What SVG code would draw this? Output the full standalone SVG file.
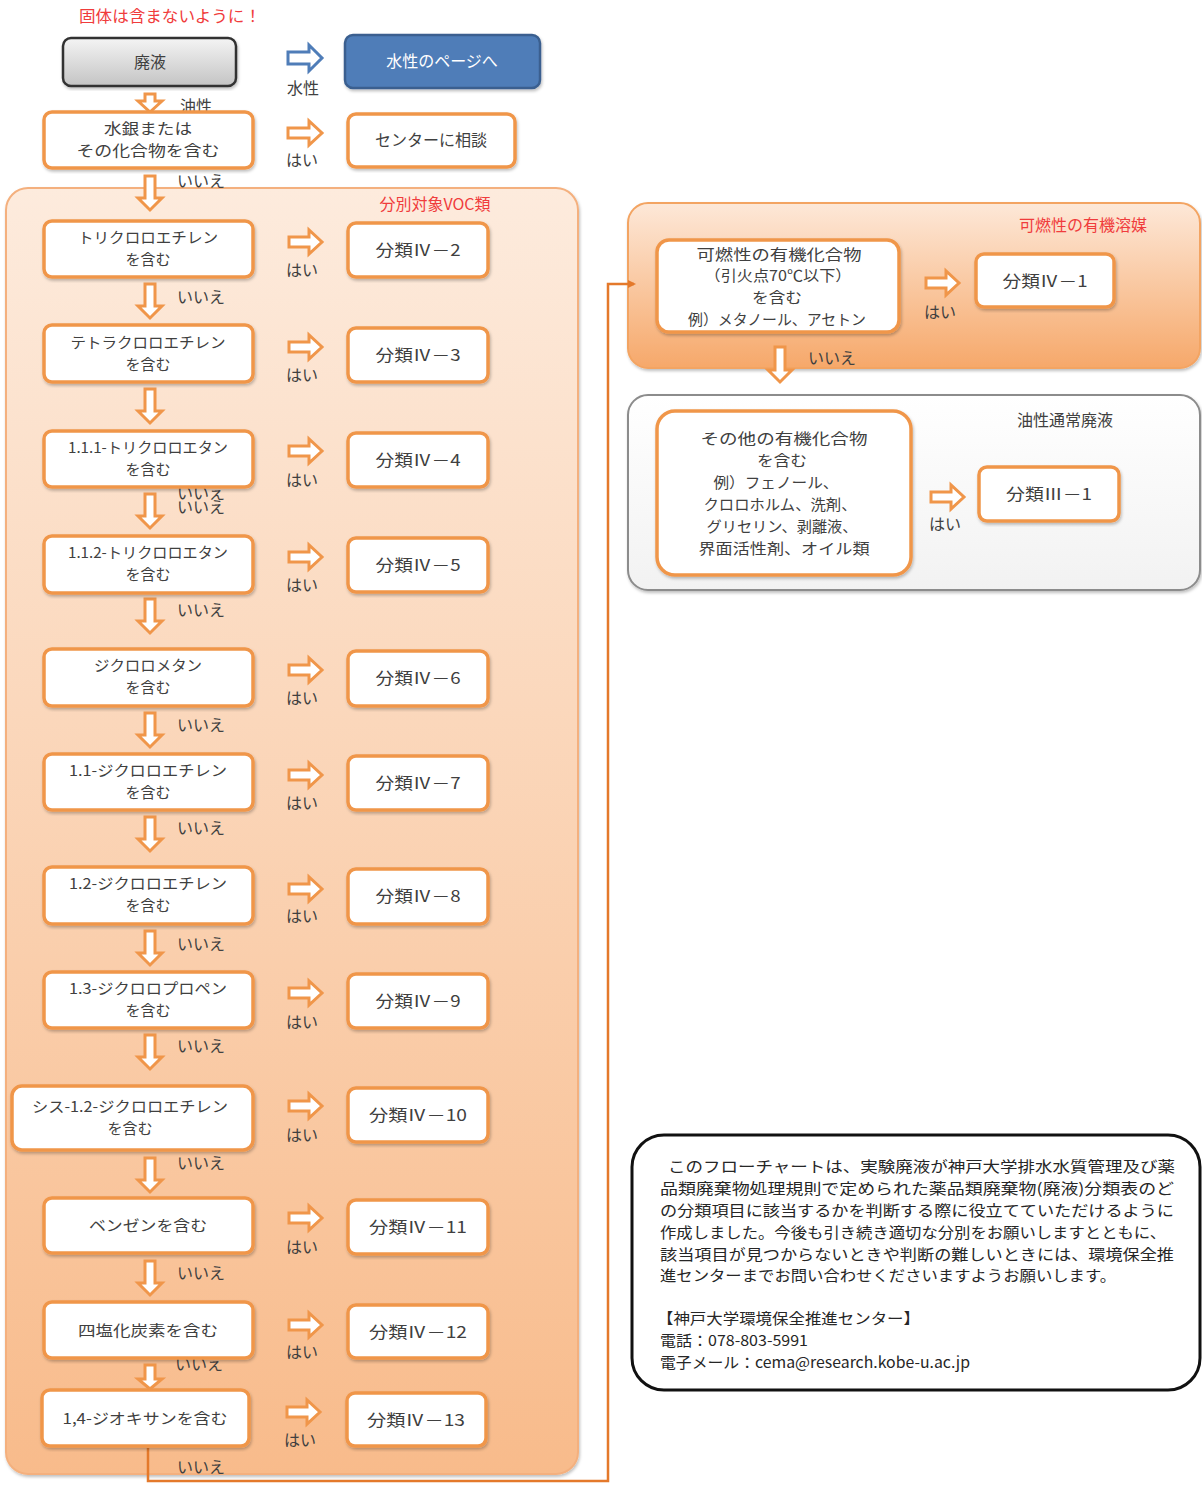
<svg xmlns="http://www.w3.org/2000/svg" width="1202" height="1486" viewBox="0 0 1202 1486">
<defs>
<linearGradient id="gLeft" x1="0" y1="0" x2="0" y2="1">
<stop offset="0" stop-color="#FDEBDD"/><stop offset="1" stop-color="#F8BB8B"/>
</linearGradient>
<linearGradient id="gRTop" x1="0" y1="0" x2="0" y2="1">
<stop offset="0" stop-color="#FDE8D8"/><stop offset="1" stop-color="#F6A86A"/>
</linearGradient>
<linearGradient id="gGrey" x1="0" y1="0" x2="0" y2="1">
<stop offset="0" stop-color="#F4F4F4"/><stop offset="1" stop-color="#C4C4C4"/>
</linearGradient>
<linearGradient id="gWhite" x1="0" y1="0" x2="0" y2="1">
<stop offset="0" stop-color="#FFFFFF"/><stop offset="1" stop-color="#F2F2F2"/>
</linearGradient>
<filter id="sh" x="-5%" y="-5%" width="110%" height="115%">
<feDropShadow dx="1" dy="2" stdDeviation="1.5" flood-color="#000" flood-opacity="0.25"/>
</filter>
<marker id="ah" markerWidth="8" markerHeight="8" refX="6" refY="4" orient="auto" markerUnits="userSpaceOnUse">
<path d="M0,0 L8,4 L0,8 Z" fill="#E4792B"/>
</marker>
</defs>
<style>
text{font-family:"Noto Sans CJK JP","Noto Sans",sans-serif;fill:#404040;font-size:15px;}
.c{text-anchor:middle;}
.red{fill:#F03C3C;font-size:16px;}
.node{fill:#FFFFFF;stroke:#F0964A;stroke-width:3.5;}
.arr{fill:#FFFFFF;stroke:#F0964A;stroke-width:3;stroke-linejoin:miter;}
.lbl{font-size:16px;}
.cls{font-size:16px;}
.note{font-size:15px;fill:#262626;}
</style>

<text class="red" x="170" y="22" text-anchor="middle" textLength="182" lengthAdjust="spacingAndGlyphs">固体は含まないように！</text>

<!-- panels -->
<g id="panel-voc">
<rect x="6" y="188" width="572" height="1286" rx="22" fill="url(#gLeft)" stroke="#F4B07E" stroke-width="2" filter="url(#sh)"/>
<text class="red" x="435" y="210" text-anchor="middle">分別対象VOC類</text>
</g>
<g id="panel-flammable">
<rect x="628" y="203" width="572" height="165" rx="20" fill="url(#gRTop)" stroke="#F3A462" stroke-width="2" filter="url(#sh)"/>
<text class="red" x="1083" y="231" text-anchor="middle">可燃性の有機溶媒</text>
</g>
<g id="panel-oil">
<rect x="628" y="395" width="572" height="195" rx="20" fill="url(#gWhite)" stroke="#8C8C8C" stroke-width="2" filter="url(#sh)"/>
<text class="lbl" x="1065" y="426" text-anchor="middle">油性通常廃液</text>
</g>

<!-- connectors -->
<g id="connectors">
<polygon class="arr" style="stroke:#4F7DB8" points="288,52 309,52 309,45 322,58 309,71 309,64 288,64"/>
<polygon class="arr" points="145,94 155,94 155,101 162,101 150,112 138,101 145,101"/>
<polygon class="arr" points="288,128 309,128 309,121 322,133 309,145 309,138 288,138"/>
<polygon class="arr" points="145,176 155,176 155,198 162,198 150,210 138,198 145,198"/>
<polygon class="arr" points="289,237 309,237 309,230 322,242 309,254 309,247 289,247"/>
<polygon class="arr" points="289,342 309,342 309,335 322,347 309,359 309,352 289,352"/>
<polygon class="arr" points="289,446 309,446 309,439 322,451 309,463 309,456 289,456"/>
<polygon class="arr" points="289,552 309,552 309,545 322,557 309,569 309,562 289,562"/>
<polygon class="arr" points="289,665 309,665 309,658 322,670 309,682 309,675 289,675"/>
<polygon class="arr" points="289,770 309,770 309,763 322,775 309,787 309,780 289,780"/>
<polygon class="arr" points="289,884 309,884 309,877 322,889 309,901 309,894 289,894"/>
<polygon class="arr" points="289,988 309,988 309,981 322,993 309,1005 309,998 289,998"/>
<polygon class="arr" points="289,1101 309,1101 309,1094 322,1106 309,1118 309,1111 289,1111"/>
<polygon class="arr" points="289,1213 309,1213 309,1206 322,1218 309,1230 309,1223 289,1223"/>
<polygon class="arr" points="289,1320 309,1320 309,1313 322,1325 309,1337 309,1330 289,1330"/>
<polygon class="arr" points="287,1407 307,1407 307,1400 320,1412 307,1424 307,1417 287,1417"/>
<polygon class="arr" points="145,284 155,284 155,306 162,306 150,318 138,306 145,306"/>
<polygon class="arr" points="145,389 155,389 155,411 162,411 150,423 138,411 145,411"/>
<polygon class="arr" points="145,494 155,494 155,516 162,516 150,528 138,516 145,516"/>
<polygon class="arr" points="145,599 155,599 155,621 162,621 150,633 138,621 145,621"/>
<polygon class="arr" points="145,713 155,713 155,735 162,735 150,747 138,735 145,735"/>
<polygon class="arr" points="145,817 155,817 155,839 162,839 150,851 138,839 145,839"/>
<polygon class="arr" points="145,931 155,931 155,953 162,953 150,965 138,953 145,953"/>
<polygon class="arr" points="145,1035 155,1035 155,1057 162,1057 150,1069 138,1057 145,1057"/>
<polygon class="arr" points="145,1158 155,1158 155,1180 162,1180 150,1192 138,1180 145,1180"/>
<polygon class="arr" points="145,1261 155,1261 155,1283 162,1283 150,1295 138,1283 145,1283"/>
<polygon class="arr" points="145,1365 155,1365 155,1379 162,1379 150,1389 138,1379 145,1379"/>
<polygon class="arr" points="926,278 946,278 946,271 959,283 946,295 946,288 926,288"/>
<polygon class="arr" points="775,347 785,347 785,370 792,370 780,382 768,370 775,370"/>
<polygon class="arr" points="931,492 951,492 951,485 964,497 951,509 951,502 931,502"/>
<path d="M148,1448 V1481 H608 V284 H634" fill="none" stroke="#E4792B" stroke-width="2.5" marker-end="url(#ah)"/>
<text class="lbl c" x="303" y="94">水性</text>
<text class="lbl c" x="196" y="112">油性</text>
<text class="lbl c" x="302" y="166">はい</text>
<text class="lbl c" x="201" y="187">いいえ</text>
<text class="lbl c" x="302" y="276">はい</text>
<text class="lbl c" x="201" y="303">いいえ</text>
<text class="lbl c" x="302" y="381">はい</text>
<text class="lbl c" x="302" y="486">はい</text>
<text class="lbl c" x="201" y="499">いいえ</text>
<text class="lbl c" x="201" y="513">いいえ</text>
<text class="lbl c" x="302" y="591">はい</text>
<text class="lbl c" x="201" y="616">いいえ</text>
<text class="lbl c" x="302" y="704">はい</text>
<text class="lbl c" x="201" y="731">いいえ</text>
<text class="lbl c" x="302" y="809">はい</text>
<text class="lbl c" x="201" y="834">いいえ</text>
<text class="lbl c" x="302" y="922">はい</text>
<text class="lbl c" x="201" y="950">いいえ</text>
<text class="lbl c" x="302" y="1028">はい</text>
<text class="lbl c" x="201" y="1052">いいえ</text>
<text class="lbl c" x="302" y="1141">はい</text>
<text class="lbl c" x="201" y="1169">いいえ</text>
<text class="lbl c" x="302" y="1253">はい</text>
<text class="lbl c" x="201" y="1279">いいえ</text>
<text class="lbl c" x="302" y="1358">はい</text>
<text class="lbl c" x="199" y="1370">いいえ</text>
<text class="lbl c" x="300" y="1446">はい</text>
<text class="lbl c" x="201" y="1473">いいえ</text>
<text class="lbl c" x="940" y="318">はい</text>
<text class="lbl c" x="832" y="364">いいえ</text>
<text class="lbl c" x="945" y="530">はい</text>
</g>

<!-- top nodes -->
<g id="n-haieki">
<rect x="63" y="38" width="173" height="48" rx="8" fill="url(#gGrey)" stroke="#333333" stroke-width="2.5" filter="url(#sh)"/>
<text class="c cls" x="150" y="68">廃液</text>
</g>
<g id="n-suisei">
<rect x="345" y="35" width="195" height="53" rx="8" fill="#4F7DB8" stroke="#3A5F8F" stroke-width="2.5" filter="url(#sh)"/>
<text class="c cls" x="442" y="67" style="fill:#FFFFFF">水性のページへ</text>
</g>
<g id="n-mercury">
<rect class="node" x="44" y="112" width="209" height="56" rx="8" filter="url(#sh)"/>
<text class="c" x="148" y="134" textLength="88" lengthAdjust="spacingAndGlyphs">水銀または</text>
<text class="c" x="148" y="156" textLength="143" lengthAdjust="spacingAndGlyphs">その化合物を含む</text>
</g>
<g id="n-center">
<rect class="node" x="348" y="114" width="167" height="53" rx="8" filter="url(#sh)"/>
<text class="c cls" x="431" y="146">センターに相談</text>
</g>

<!-- VOC rows -->
<g id="n-q1"><rect class="node" x="44" y="221" width="209" height="56" rx="8" filter="url(#sh)"/>
<text class="c" x="148" y="243" textLength="140" lengthAdjust="spacingAndGlyphs">トリクロロエチレン</text><text class="c" x="148" y="265">を含む</text></g>
<g id="n-r2"><rect class="node" x="348" y="223" width="140" height="54" rx="8" filter="url(#sh)"/>
<text class="c cls" x="418" y="256" textLength="85" lengthAdjust="spacingAndGlyphs">分類Ⅳ－2</text></g>

<g id="n-q2"><rect class="node" x="44" y="325" width="209" height="57" rx="8" filter="url(#sh)"/>
<text class="c" x="148" y="348" textLength="155" lengthAdjust="spacingAndGlyphs">テトラクロロエチレン</text><text class="c" x="148" y="370">を含む</text></g>
<g id="n-r3"><rect class="node" x="348" y="328" width="140" height="54" rx="8" filter="url(#sh)"/>
<text class="c cls" x="418" y="361" textLength="85" lengthAdjust="spacingAndGlyphs">分類Ⅳ－3</text></g>

<g id="n-q3"><rect class="node" x="44" y="431" width="209" height="56" rx="8" filter="url(#sh)"/>
<text class="c" x="148" y="453" textLength="160" lengthAdjust="spacingAndGlyphs">1.1.1-トリクロロエタン</text><text class="c" x="148" y="475">を含む</text></g>
<g id="n-r4"><rect class="node" x="348" y="433" width="140" height="54" rx="8" filter="url(#sh)"/>
<text class="c cls" x="418" y="466" textLength="85" lengthAdjust="spacingAndGlyphs">分類Ⅳ－4</text></g>

<g id="n-q4"><rect class="node" x="44" y="536" width="209" height="57" rx="8" filter="url(#sh)"/>
<text class="c" x="148" y="558" textLength="160" lengthAdjust="spacingAndGlyphs">1.1.2-トリクロロエタン</text><text class="c" x="148" y="580">を含む</text></g>
<g id="n-r5"><rect class="node" x="348" y="538" width="140" height="54" rx="8" filter="url(#sh)"/>
<text class="c cls" x="418" y="571" textLength="85" lengthAdjust="spacingAndGlyphs">分類Ⅳ－5</text></g>

<g id="n-q5"><rect class="node" x="44" y="649" width="209" height="57" rx="8" filter="url(#sh)"/>
<text class="c" x="148" y="671" textLength="108" lengthAdjust="spacingAndGlyphs">ジクロロメタン</text><text class="c" x="148" y="693">を含む</text></g>
<g id="n-r6"><rect class="node" x="348" y="651" width="140" height="55" rx="8" filter="url(#sh)"/>
<text class="c cls" x="418" y="684" textLength="85" lengthAdjust="spacingAndGlyphs">分類Ⅳ－6</text></g>

<g id="n-q6"><rect class="node" x="44" y="754" width="209" height="56" rx="8" filter="url(#sh)"/>
<text class="c" x="148" y="776" textLength="158" lengthAdjust="spacingAndGlyphs">1.1-ジクロロエチレン</text><text class="c" x="148" y="798">を含む</text></g>
<g id="n-r7"><rect class="node" x="348" y="756" width="140" height="54" rx="8" filter="url(#sh)"/>
<text class="c cls" x="418" y="789" textLength="85" lengthAdjust="spacingAndGlyphs">分類Ⅳ－7</text></g>

<g id="n-q7"><rect class="node" x="44" y="867" width="209" height="57" rx="8" filter="url(#sh)"/>
<text class="c" x="148" y="889" textLength="158" lengthAdjust="spacingAndGlyphs">1.2-ジクロロエチレン</text><text class="c" x="148" y="911">を含む</text></g>
<g id="n-r8"><rect class="node" x="348" y="869" width="140" height="55" rx="8" filter="url(#sh)"/>
<text class="c cls" x="418" y="902" textLength="85" lengthAdjust="spacingAndGlyphs">分類Ⅳ－8</text></g>

<g id="n-q8"><rect class="node" x="44" y="972" width="209" height="56" rx="8" filter="url(#sh)"/>
<text class="c" x="148" y="994" textLength="158" lengthAdjust="spacingAndGlyphs">1.3-ジクロロプロペン</text><text class="c" x="148" y="1016">を含む</text></g>
<g id="n-r9"><rect class="node" x="348" y="974" width="140" height="54" rx="8" filter="url(#sh)"/>
<text class="c cls" x="418" y="1007" textLength="85" lengthAdjust="spacingAndGlyphs">分類Ⅳ－9</text></g>

<g id="n-q9"><rect class="node" x="12" y="1086" width="241" height="64" rx="10" filter="url(#sh)"/>
<text class="c" x="130" y="1112" textLength="196" lengthAdjust="spacingAndGlyphs">シス-1.2-ジクロロエチレン</text><text class="c" x="130" y="1134">を含む</text></g>
<g id="n-r10"><rect class="node" x="348" y="1088" width="140" height="54" rx="8" filter="url(#sh)"/>
<text class="c cls" x="418" y="1121" textLength="98" lengthAdjust="spacingAndGlyphs">分類Ⅳ－10</text></g>

<g id="n-q10"><rect class="node" x="44" y="1198" width="209" height="55" rx="8" filter="url(#sh)"/>
<text class="c" x="148" y="1231" textLength="118" lengthAdjust="spacingAndGlyphs">ベンゼンを含む</text></g>
<g id="n-r11"><rect class="node" x="348" y="1200" width="140" height="54" rx="8" filter="url(#sh)"/>
<text class="c cls" x="418" y="1233" textLength="98" lengthAdjust="spacingAndGlyphs">分類Ⅳ－11</text></g>

<g id="n-q11"><rect class="node" x="44" y="1302" width="209" height="56" rx="8" filter="url(#sh)"/>
<text class="c" x="148" y="1336" textLength="140" lengthAdjust="spacingAndGlyphs">四塩化炭素を含む</text></g>
<g id="n-r12"><rect class="node" x="348" y="1305" width="140" height="53" rx="8" filter="url(#sh)"/>
<text class="c cls" x="418" y="1338" textLength="98" lengthAdjust="spacingAndGlyphs">分類Ⅳ－12</text></g>

<g id="n-q12"><rect class="node" x="42" y="1390" width="207" height="56" rx="8" filter="url(#sh)"/>
<text class="c" x="145" y="1424" textLength="165" lengthAdjust="spacingAndGlyphs">1,4-ジオキサンを含む</text></g>
<g id="n-r13"><rect class="node" x="347" y="1393" width="139" height="53" rx="8" filter="url(#sh)"/>
<text class="c cls" x="416" y="1426" textLength="98" lengthAdjust="spacingAndGlyphs">分類Ⅳ－13</text></g>

<!-- right nodes -->
<g id="n-flammable">
<rect class="node" x="657" y="240" width="242" height="92" rx="12" filter="url(#sh)"/>
<text class="c" x="779" y="260" textLength="165" lengthAdjust="spacingAndGlyphs">可燃性の有機化合物</text>
<text class="c" x="778" y="281" textLength="147" lengthAdjust="spacingAndGlyphs">（引火点70℃以下）</text>
<text class="c" x="777" y="303" textLength="50" lengthAdjust="spacingAndGlyphs">を含む</text>
<text class="c" x="777" y="325" textLength="178" lengthAdjust="spacingAndGlyphs">例）メタノール、アセトン</text>
</g>
<g id="n-r1">
<rect class="node" x="976" y="254" width="138" height="53" rx="8" filter="url(#sh)"/>
<text class="c cls" x="1045" y="287" textLength="85" lengthAdjust="spacingAndGlyphs">分類Ⅳ－1</text>
</g>
<g id="n-other">
<rect class="node" x="657" y="411" width="254" height="164" rx="18" filter="url(#sh)"/>
<text class="c" x="784" y="444" textLength="167" lengthAdjust="spacingAndGlyphs">その他の有機化合物</text>
<text class="c" x="782" y="466" textLength="50" lengthAdjust="spacingAndGlyphs">を含む</text>
<text class="c" x="776" y="488" textLength="125" lengthAdjust="spacingAndGlyphs">例）フェノール、</text>
<text class="c" x="780" y="510" textLength="153" lengthAdjust="spacingAndGlyphs">クロロホルム、洗剤、</text>
<text class="c" x="782" y="532" textLength="151" lengthAdjust="spacingAndGlyphs">グリセリン、剥離液、</text>
<text class="c" x="784" y="554" textLength="171" lengthAdjust="spacingAndGlyphs">界面活性剤、オイル類</text>
</g>
<g id="n-r31">
<rect class="node" x="979" y="467" width="140" height="54" rx="8" filter="url(#sh)"/>
<text class="c cls" x="1049" y="500" textLength="86" lengthAdjust="spacingAndGlyphs">分類Ⅲ－1</text>
</g>

<!-- note -->
<g id="note">
<rect x="632" y="1135" width="568" height="255" rx="32" fill="#FFFFFF" stroke="#111111" stroke-width="3"/>
<text class="note" x="668" y="1172" textLength="507" lengthAdjust="spacingAndGlyphs">このフローチャートは、実験廃液が神戸大学排水水質管理及び薬</text>
<text class="note" x="660" y="1194" textLength="514" lengthAdjust="spacingAndGlyphs">品類廃棄物処理規則で定められた薬品類廃棄物(廃液)分類表のど</text>
<text class="note" x="660" y="1216" textLength="514" lengthAdjust="spacingAndGlyphs">の分類項目に該当するかを判断する際に役立てていただけるように</text>
<text class="note" x="660" y="1238" textLength="506" lengthAdjust="spacingAndGlyphs">作成しました。今後も引き続き適切な分別をお願いしますとともに、</text>
<text class="note" x="660" y="1260" textLength="514" lengthAdjust="spacingAndGlyphs">該当項目が見つからないときや判断の難しいときには、環境保全推</text>
<text class="note" x="660" y="1281" textLength="456" lengthAdjust="spacingAndGlyphs">進センターまでお問い合わせくださいますようお願いします。</text>
<text class="note" x="657" y="1324" textLength="263" lengthAdjust="spacingAndGlyphs">【神戸大学環境保全推進センター】</text>
<text class="note" x="660" y="1346" textLength="148" lengthAdjust="spacingAndGlyphs">電話：078-803-5991</text>
<text class="note" x="660" y="1368" textLength="310" lengthAdjust="spacingAndGlyphs">電子メール：cema@research.kobe-u.ac.jp</text>
</g>
</svg>
